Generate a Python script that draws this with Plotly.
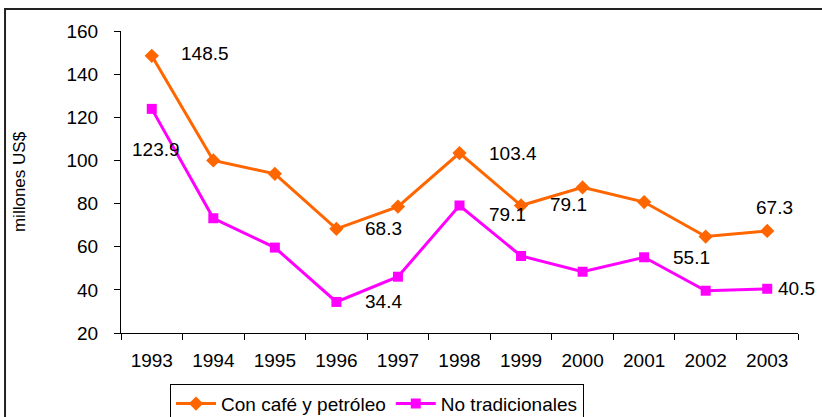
import plotly.graph_objects as go

years = ["1993", "1994", "1995", "1996", "1997", "1998", "1999", "2000", "2001", "2002", "2003"]
con_cafe = [148.5, 100.0, 93.8, 68.3, 78.6, 103.4, 79.1, 87.5, 80.7, 64.7, 67.3]
no_trad = [123.9, 73.2, 59.6, 34.4, 46.1, 79.1, 55.7, 48.4, 55.1, 39.6, 40.5]

# which points carry a value label (index into years)
con_cafe_labeled = [0, 3, 5, 6, 10]
no_trad_labeled = [0, 3, 5, 8, 10]

ORANGE = "#FF6600"
MAGENTA = "#FF00FF"
FONT = "Liberation Sans, Arial, sans-serif"
FS = 19

fig = go.Figure()
fig.add_trace(go.Scatter(
    x=years, y=con_cafe, name="Con café y petróleo", mode="lines+markers",
    line=dict(color=ORANGE, width=3),
    marker=dict(symbol="diamond", size=11, color=ORANGE),
))
fig.add_trace(go.Scatter(
    x=years, y=no_trad, name="No tradicionales", mode="lines+markers",
    line=dict(color=MAGENTA, width=3),
    marker=dict(symbol="square", size=10, color=MAGENTA),
))

# label offsets (pixels) per labelled point
con_offsets = {0: (53, 2), 3: (47, 0), 5: (53, 0), 6: (47, 1), 10: (7, 23)}
no_offsets = {0: (4, -41), 3: (47, 0), 5: (48, -9), 8: (47, 0), 10: (29, 0)}

# category axis: annotations use the category's serial number
for idx in con_cafe_labeled:
    dx, dy = con_offsets[idx]
    fig.add_annotation(x=idx, y=con_cafe[idx], text=f"{con_cafe[idx]:.1f}",
                       showarrow=False, xshift=dx, yshift=dy,
                       font=dict(family=FONT, size=FS, color="black"))
for idx in no_trad_labeled:
    dx, dy = no_offsets[idx]
    fig.add_annotation(x=idx, y=no_trad[idx], text=f"{no_trad[idx]:.1f}",
                       showarrow=False, xshift=dx, yshift=dy,
                       font=dict(family=FONT, size=FS, color="black"))

# outer chart frame (runs off the right and bottom edges)
fig.add_shape(type="rect", xref="paper", yref="paper",
              x0=-0.1713, x1=1.1, y0=-0.35, y1=1.073,
              line=dict(color="#222222", width=2), layer="above")

fig.update_layout(
    width=822, height=417,
    margin=dict(l=121, r=24, t=31, b=84, autoexpand=False),
    paper_bgcolor="white", plot_bgcolor="white",
    font=dict(family=FONT, size=FS, color="black"),
    showlegend=True,
    legend=dict(
        orientation="h", x=0.0724, y=-0.168, xanchor="left", yanchor="top",
        bordercolor="black", borderwidth=1, bgcolor="white",
        font=dict(family=FONT, size=FS), itemwidth=40,
    ),
    xaxis=dict(
        type="category", range=[-0.5, 10.5], autorange=False,
        tickson="boundaries", ticks="outside", ticklen=6,
        tickcolor="black", showline=True, linecolor="black", linewidth=1,
        showgrid=False, ticklabelstandoff=10, tickangle=0,
    ),
    yaxis=dict(
        range=[20, 160], dtick=20, ticks="outside", ticklen=6,
        tickcolor="black", showline=True, linecolor="black", linewidth=1,
        showgrid=False, zeroline=False, ticklabelstandoff=12,
        title=dict(text="millones US$", font=dict(family=FONT, size=17), standoff=36),
    ),
)

# drop the default page margin so the figure sits at the window's corner
fig.write_html("out.html", config={"displayModeBar": False},
               post_script="document.body.style.margin='0';")
